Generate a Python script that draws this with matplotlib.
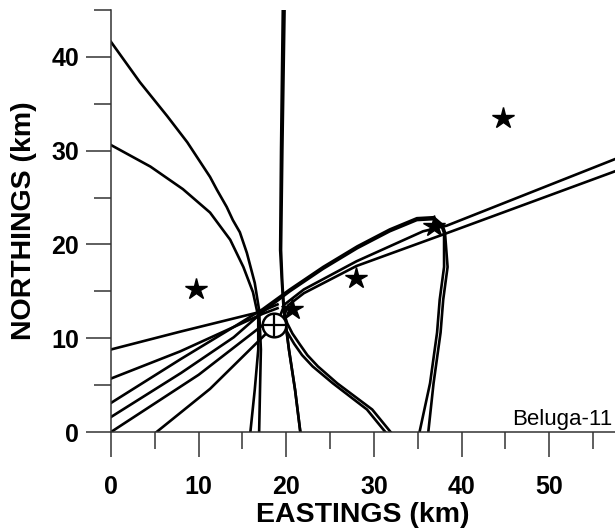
import matplotlib
matplotlib.use("Agg")
import matplotlib.pyplot as plt

plt.rcParams['font.family'] = ['Liberation Sans', 'DejaVu Sans']

# hydrophone positions (km)
phone_x = [9.7, 20.6, 27.9, 36.9, 44.7]
phone_y = [15.2, 13.1, 16.4, 22.0, 33.5]

# located whale (circle with cross)
whale_x = [18.6]
whale_y = [11.4]

# hyperbola curves
a1_x = [0, 3.3, 6.4, 8.7, 11.3, 12.1, 13.2, 13.9, 14.7, 15.5, 16.4, 16.9, 17.1, 17.0, 16.9]
a1_y = [41.6, 37.3, 33.7, 30.9, 27.2, 25.8, 24.0, 22.6, 21.3, 19.1, 15.9, 13.0, 8.8, 4.5, 0]
a2_x = [0, 4.5, 8.2, 11.3, 13.6, 15.1, 16.2, 16.8, 16.8, 16.4, 15.9]
a2_y = [30.6, 28.3, 25.9, 23.4, 20.5, 17.6, 14.9, 12.3, 8.8, 4.5, 0]

b1_x = [19.6, 19.4, 19.3, 19.5, 19.7, 20.3, 21.0, 21.6]
b1_y = [45, 30.1, 19.4, 15.9, 13.0, 8.8, 4.5, 0]
b2_x = [19.8, 19.55, 19.4, 19.55, 19.75, 20.3, 21.0, 21.6]
b2_y = [45, 30.1, 19.4, 15.9, 13.0, 8.8, 4.5, 0]

c1_x = [0, 8.0, 14.0, 17.3, 20.4, 24.2, 28.1, 31.8, 34.9, 36.8, 37.8, 38.1, 38.4, 37.9, 37.6, 36.8, 36.2]
c1_y = [3.1, 7.8, 11.2, 13.1, 15.2, 17.6, 19.8, 21.6, 22.8, 22.9, 22.1, 21.3, 17.6, 14.1, 10.6, 5.2, 0]
c2_x = [0, 8.0, 14.0, 17.3, 20.4, 24.2, 28.1, 31.8, 34.9, 36.8, 37.7, 38.0, 38.0, 37.5, 37.2, 36.4, 35.2]
c2_y = [1.6, 6.3, 10.1, 12.8, 15.0, 17.4, 19.6, 21.4, 22.6, 22.7, 22.0, 21.2, 17.6, 14.1, 10.6, 5.2, 0]

d1_x = [57.5, 38.3, 35.6, 28.0, 22.0, 19.8, 19.3, 19.6, 20.2, 20.9, 21.8, 23.0, 25.3, 29.2, 31.3]
d1_y = [29.1, 22.0, 21.4, 18.2, 15.2, 13.6, 12.4, 11.5, 10.5, 9.4, 8.2, 7.0, 5.2, 2.4, 0]
d2_x = [57.5, 38.3, 28.0, 22.0, 20.2, 19.8, 20.1, 20.7, 21.5, 22.4, 23.6, 25.8, 29.8, 31.9]
d2_y = [27.8, 21.2, 17.7, 14.8, 13.5, 12.5, 11.6, 10.5, 9.4, 8.2, 7.0, 5.2, 2.4, 0]

l1_x = [0, 7.9, 17.0, 19.0]
l1_y = [8.8, 10.7, 12.8, 13.6]
l2_x = [0, 7.9, 17.3, 19.0]
l2_y = [5.7, 8.6, 12.6, 13.2]
l3_x = [0, 10.0, 17.6]
l3_y = [0, 6.1, 11.6]
l4_x = [5.2, 11.3, 17.6]
l4_y = [0, 4.6, 10.4]

curves = [(a1_x, a1_y), (a2_x, a2_y), (b1_x, b1_y), (b2_x, b2_y),
          (c1_x, c1_y), (c2_x, c2_y), (d1_x, d1_y), (d2_x, d2_y),
          (l1_x, l1_y), (l2_x, l2_y), (l3_x, l3_y), (l4_x, l4_y)]

fig = plt.figure(figsize=(6.15, 5.29), dpi=100)
ax = fig.add_axes([111/615, 97/529, 504/615, 422/529])

for cx, cy in curves:
    ax.plot(cx, cy, color="black", lw=1.9, solid_joinstyle="round")

ax.plot(phone_x, phone_y, ls="none", marker="*", ms=16, color="black")
ax.plot(whale_x, whale_y, ls="none", marker="o", ms=17, mfc="white", mec="black", mew=1.8, zorder=5)
ax.plot(whale_x, whale_y, ls="none", marker="+", ms=16, mec="black", mew=1.6, zorder=6)

ax.set_xlim(0, 57.5)
ax.set_ylim(0, 45)
ax.spines["top"].set_visible(False)
ax.spines["right"].set_visible(False)
for s in ["left", "bottom"]:
    ax.spines[s].set_color("#333333")
    ax.spines[s].set_linewidth(1.1)

ax.set_xticks(range(0, 60, 10))
ax.set_xticks(range(5, 60, 10), minor=True)
ax.set_yticks(range(0, 45, 10))
ax.set_yticks(range(5, 50, 10), minor=True)
ax.tick_params(which="major", direction="out", length=18, width=1.1, color="#333333")
ax.tick_params(which="minor", direction="out", length=12, width=1.1, color="#333333")
ax.tick_params(axis="x", which="major", pad=13)
ax.tick_params(axis="y", which="major", pad=5)
for lab in ax.get_xticklabels() + ax.get_yticklabels():
    lab.set_fontsize(18)
    lab.set_fontweight("bold")

ax.set_xlabel("EASTINGS (km)", fontsize=20.5, fontweight="bold", labelpad=2)
ax.set_ylabel("NORTHINGS (km)", fontsize=20.5, fontweight="bold", labelpad=10)

ax.text(57.2, 0.75, "Beluga-11", fontsize=16, ha="right", va="baseline")

fig.savefig("out.png", dpi=100)
